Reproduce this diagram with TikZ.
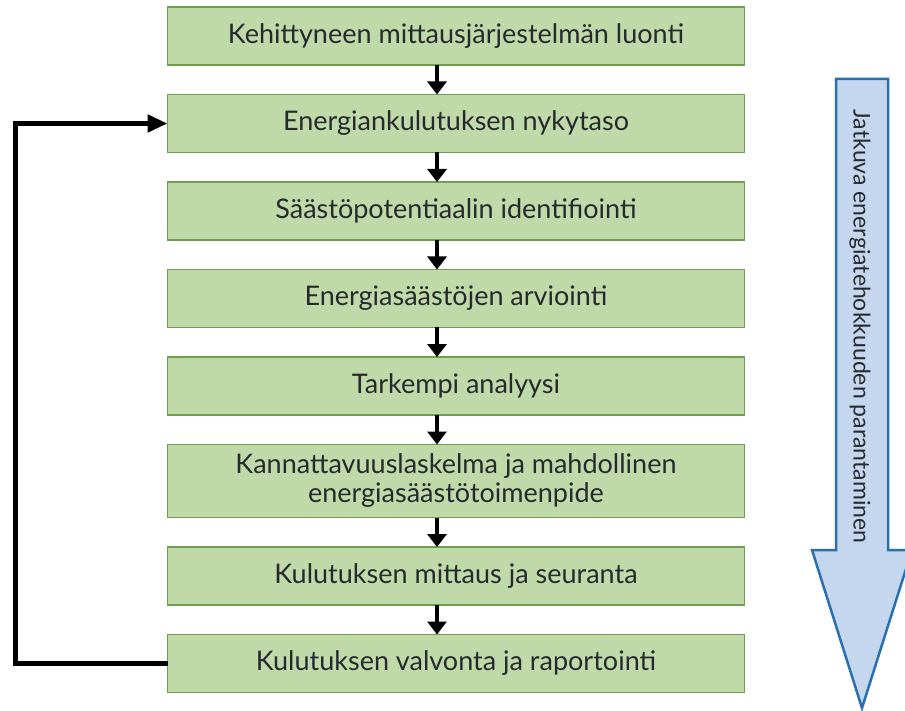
\documentclass[tikz,border=0pt]{standalone}
\usepackage{fontspec}
\setmainfont{Lato}
\usetikzlibrary{positioning,arrows.meta}
\definecolor{boxfill}{HTML}{BFDAA8}
\definecolor{boxgreen}{HTML}{6E9E4E}
\definecolor{arrowfill}{HTML}{C4D7EE}
\definecolor{arrowblue}{HTML}{2A70B0}
\definecolor{textgray}{HTML}{262A2E}

\begin{document}
\begin{tikzpicture}[x=1pt,y=1pt,node distance=29.5pt,
		box/.style={draw=boxgreen,fill=boxfill,line width=1.5pt,minimum width=577pt,minimum height=58pt,inner sep=0pt,outer sep=0pt,
			align=center,text=textgray,font=\fontsize{27}{29}\selectfont},
		flow/.style={line width=4.5pt,-{Triangle[length=13pt,width=19pt]}},
		feedback/.style={line width=5pt,-{Triangle[length=20pt,width=17pt]}}]
		\useasboundingbox (0,0) rectangle (905,-711);
		\node[box] (k1) at (456,-36) {Kehittyneen mittausjärjestelmän luonti};
		\node[box,below=of k1] (k2) {Energiankulutuksen nykytaso};
		\node[box,below=of k2] (k3) {Säästöpotentiaalin identifiointi};
		\node[box,below=of k3] (k4) {Energiasäästöjen arviointi};
		\node[box,below=of k4] (k5) {Tarkempi analyysi};
		\node[box,below=of k5,minimum height=73pt] (k6) {Kannattavuuslaskelma ja mahdollinen \\ energiasäästötoimenpide};
		\node[box,below=of k6] (k7) {Kulutuksen mittaus ja seuranta};
		\node[box,below=of k7] (k8) {Kulutuksen valvonta ja raportointi};
		\foreach \a/\b in {k1/k2,k2/k3,k3/k4,k4/k5,k5/k6,k6/k7,k7/k8}
			\draw[flow] ([xshift=-19pt]\a.south) -- ([xshift=-19pt]\b.north);
		\draw[feedback] (k8.west) -- ++(-152,0) |- (k2.west);
		\filldraw[fill=arrowfill,draw=arrowblue,line width=2.5pt,line join=miter]
			(836,-79) -- (888,-79) -- (888,-550) -- (912,-550) -- (862,-708) -- (812,-550) -- (836,-550) -- cycle;
		\node[rotate=-90,anchor=west,text=textgray,font=\fontsize{23}{25}\selectfont] (jatkuva) at (860,-106) {Jatkuva energiatehokkuuden parantaminen};
\end{tikzpicture}
\end{document}
